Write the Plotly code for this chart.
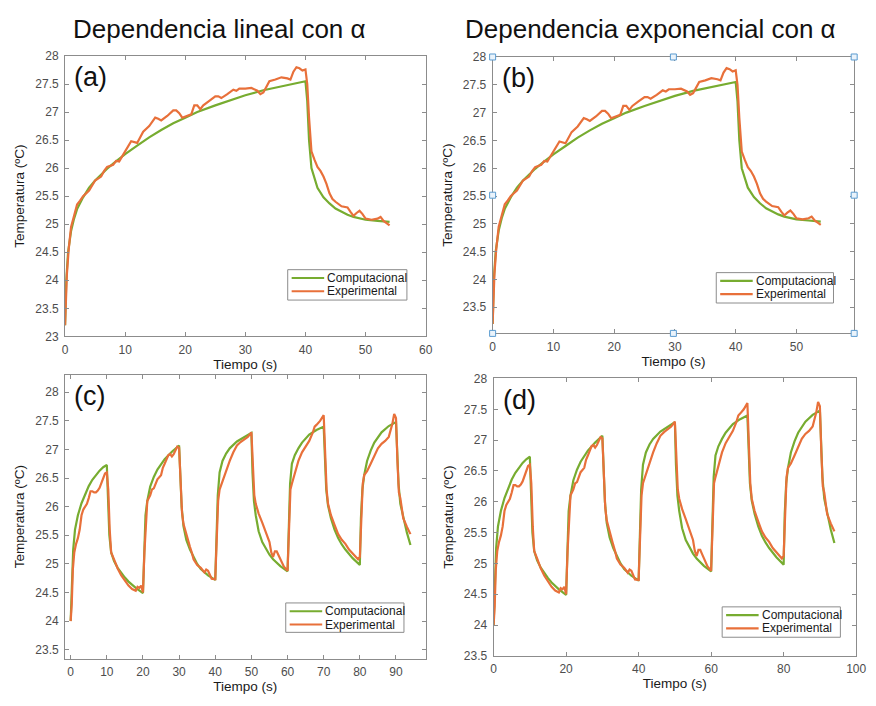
import plotly.graph_objects as go

# ---------------- Single heating pulse (panels a, b) ----------------
t_comp_pulse = [0, 0.2, 0.5, 1.0, 1.5, 2, 3, 4, 5, 6, 7, 8, 10, 12, 14, 16, 18, 20,
                22, 25, 28, 30, 33, 36, 40, 40.3, 40.6, 41, 41.5, 42, 43, 44, 45,
                46, 47, 48, 50, 52, 54]
temp_comp_pulse = [23.2, 24.0, 24.5, 24.88, 25.1, 25.27, 25.48, 25.65, 25.78, 25.89,
                   25.99, 26.08, 26.25, 26.4, 26.55, 26.68, 26.8, 26.9, 27.0, 27.12,
                   27.23, 27.3, 27.39, 27.46, 27.55, 27.2, 26.5, 26.0, 25.8, 25.65,
                   25.48, 25.37, 25.28, 25.22, 25.17, 25.13, 25.08, 25.06, 25.04]

t_exp_pulse = [0, 0.3, 0.6, 1, 1.5, 2, 2.5, 3, 3.5, 4,
               5, 6, 6.5, 7, 8, 8.5, 9, 10, 10.5, 11,
               12, 12.5, 13, 14, 15, 15.5, 16, 17, 18, 18.5,
               19, 19.5, 20, 21, 21.5, 22, 22.5, 23, 24, 25,
               25.5, 26, 27, 28, 28.5, 29, 30, 31, 32, 32.5,
               33, 34, 35, 36, 37, 37.5, 38, 38.5, 39, 39.5,
               40, 40.3, 40.6, 41, 41.5, 42, 42.5, 43, 43.5, 44,
               44.5, 45, 46, 47, 47.5, 48, 48.5, 49, 49.5, 50,
               51, 52, 52.5, 53, 53.5, 54]
temp_exp_pulse = [23.2, 24.1, 24.55, 24.95, 25.15, 25.35, 25.42, 25.5, 25.55, 25.6,
                  25.78, 25.85, 25.95, 26.02, 26.06, 26.13, 26.12, 26.3, 26.4, 26.48,
                  26.45, 26.55, 26.65, 26.75, 26.9, 26.88, 26.85, 26.93, 27.03, 27.03,
                  26.98, 26.9, 26.92, 26.96, 27.12, 27.12, 27.05, 27.12, 27.2, 27.28,
                  27.28, 27.25, 27.32, 27.4, 27.38, 27.42, 27.42, 27.43, 27.38, 27.32,
                  27.35, 27.55, 27.58, 27.62, 27.6, 27.58, 27.72, 27.8, 27.78, 27.74,
                  27.76, 27.5, 26.9, 26.3, 26.15, 26.02, 25.95, 25.85, 25.72, 25.55,
                  25.45, 25.4, 25.32, 25.3, 25.22, 25.15, 25.2, 25.24, 25.18, 25.1,
                  25.08, 25.1, 25.13, 25.06, 25.02, 24.98]

# ---------------- Periodic heating, 10 s on / 10 s off (panels c, d) ----------------
t_comp_cycle = [0, 0.3, 0.7, 1.2, 2, 3, 4, 5, 6, 7, 8, 9, 10,
                10.3, 10.7, 11.2, 12, 13, 14, 15, 16, 18, 20,
                20.3, 20.7, 21.2, 22, 23, 24, 26, 28, 30,
                30.3, 30.7, 31.2, 32, 33, 34, 35, 36, 38, 40,
                40.3, 40.7, 41.2, 42, 43, 44, 46, 48, 50,
                50.3, 50.7, 51.2, 52, 53, 54, 55, 56, 58, 60,
                60.3, 60.7, 61.2, 62, 63, 64, 66, 68, 70,
                70.3, 70.7, 71.2, 72, 73, 74, 75, 76, 78, 80,
                80.3, 80.7, 81.2, 82, 83, 84, 86, 88, 90,
                90.3, 90.7, 91.2, 92, 93, 94]
temp_comp_cycle = [24.0, 24.7, 25.25, 25.6, 25.85, 26.06, 26.22, 26.36, 26.47, 26.56, 26.63, 26.69, 26.73,
                   26.2, 25.5, 25.2, 25.05, 24.93, 24.84, 24.76, 24.69, 24.58, 24.49,
                   25.3, 25.85, 26.1, 26.35, 26.52, 26.65, 26.83, 26.96, 27.07,
                   26.5, 26.0, 25.66, 25.42, 25.25, 25.12, 25.0, 24.91, 24.8, 24.72,
                   25.6, 26.2, 26.6, 26.8, 26.93, 27.02, 27.14, 27.22, 27.29,
                   26.6, 26.1, 25.85, 25.57, 25.38, 25.26, 25.16, 25.08, 24.96, 24.87,
                   25.7, 26.4, 26.75, 26.9, 27.02, 27.12, 27.26, 27.34, 27.4,
                   26.8, 26.3, 26.02, 25.8, 25.6, 25.45, 25.34, 25.25, 25.1, 24.98,
                   25.8, 26.3, 26.55, 26.8, 26.98, 27.12, 27.3, 27.41, 27.48,
                   26.9, 26.4, 26.05, 25.8, 25.55, 25.33]

t_exp_cycle = [0, 0.3, 0.6, 1, 1.5, 2, 2.5, 3, 3.5, 4, 4.5, 5, 5.5, 6, 6.5, 7, 7.5, 8, 8.5, 9, 9.5, 10,
               10.4, 10.8, 11.2, 12, 12.5, 13, 14, 15, 16, 17, 18, 18.5, 19, 19.5, 20,
               20.4, 20.8, 21.2, 22, 22.5, 23, 23.5, 24, 25, 25.5, 26, 27, 27.5, 28, 28.5, 29, 29.5, 30,
               30.4, 30.8, 31.2, 32, 33, 33.5, 34, 35, 36, 37, 37.5, 38, 38.5, 39, 40,
               40.4, 40.8, 41.2, 42, 43, 44, 45, 46, 47, 48, 49, 50,
               50.4, 50.8, 51.2, 52, 53, 54, 55, 55.5, 56, 56.5, 57, 57.5, 58, 59, 60,
               60.4, 60.8, 61.2, 62, 63, 64, 65, 66, 67, 67.5, 68, 69, 70,
               70.4, 70.8, 71.2, 72, 73, 74, 75, 76, 77, 78, 79, 79.5, 80,
               80.4, 80.8, 81.2, 82, 83, 84, 85, 86, 87, 88, 88.5, 89, 89.5, 90,
               90.4, 90.8, 91.2, 92, 93, 94]
temp_exp_cycle = [24.0, 24.3, 24.9, 25.2, 25.35, 25.45, 25.6, 25.85, 25.95, 26.0, 26.05, 26.15, 26.27, 26.27,
                  26.25, 26.25, 26.28, 26.33, 26.42, 26.52, 26.58, 26.6,
                  26.3, 25.6, 25.2, 25.08, 25.0, 24.92, 24.8, 24.7, 24.62, 24.56, 24.53, 24.6, 24.58, 24.62, 24.5,
                  25.2, 25.8, 26.1, 26.2, 26.3, 26.32, 26.42, 26.48, 26.55, 26.68, 26.75, 26.9, 26.92, 26.88,
                  26.92, 26.98, 27.05, 27.03,
                  26.5, 25.9, 25.7, 25.5, 25.3, 25.2, 25.08, 24.98, 24.93, 24.85, 24.9, 24.88, 24.8, 24.74, 24.73,
                  25.5, 26.1, 26.3, 26.45, 26.62, 26.8, 26.95, 27.07, 27.13, 27.17, 27.22, 27.3,
                  26.8, 26.2, 26.05, 25.88, 25.72, 25.55, 25.38, 25.2, 25.12, 25.22, 25.22, 25.15, 25.08, 24.95, 24.88,
                  25.7, 26.3, 26.4, 26.6, 26.8, 26.95, 27.05, 27.15, 27.3, 27.4, 27.43, 27.5, 27.6,
                  27.0, 26.3, 26.05, 25.85, 25.68, 25.52, 25.42, 25.35, 25.25, 25.18, 25.12, 25.08, 25.12,
                  25.8, 26.4, 26.55, 26.62, 26.75, 26.9, 27.02, 27.1, 27.15, 27.22, 27.32, 27.45, 27.62, 27.55,
                  26.8, 26.25, 26.15, 25.8, 25.65, 25.52]

series_names = ["Computacional", "Experimental"]
panel_tags = ["(a)", "(b)", "(c)", "(d)"]
column_titles = ["Dependencia lineal con \u03b1", "Dependencia exponencial con \u03b1"]

GREEN = "#77AC30"
ORANGE = "#E8703A"
BOX = "#8c8c8c"
FONT = "Liberation Sans, Arial, sans-serif"

W, H = 876, 706


def px_x(a, b):
    return [a / W, b / W]


def px_y(top, bottom):
    return [1 - bottom / H, 1 - top / H]


def fx(px):
    return px / W


def fy(px):
    return 1 - px / H


panels = [
    # x domain, y domain, x range, y range, x dtick
    dict(xd=px_x(63, 429), yd=px_y(50, 336), xr=[0, 60], yr=[23, 28], dt=10),
    dict(xd=px_x(497, 864), yd=px_y(51, 333), xr=[0, 59.5], yr=[23.03, 28], dt=10),
    dict(xd=px_x(63, 429), yd=px_y(375, 665), xr=[-1.55, 98.2], yr=[23.34, 28.31], dt=10),
    dict(xd=px_x(498, 866), yd=px_y(379, 662), xr=[0, 100], yr=[23.5, 28], dt=20),
]
# legend boxes in pixels: left, top, right, bottom
legend_boxes = [(289, 268, 410, 299), (724, 271, 843, 302), (287, 608, 407, 638), (730, 612, 850, 643)]
data_sets = [
    (t_comp_pulse, temp_comp_pulse, t_exp_pulse, temp_exp_pulse),
    (t_comp_pulse, temp_comp_pulse, t_exp_pulse, temp_exp_pulse),
    (t_comp_cycle, temp_comp_cycle, t_exp_cycle, temp_exp_cycle),
    (t_comp_cycle, temp_comp_cycle, t_exp_cycle, temp_exp_cycle),
]
colors = [GREEN, ORANGE]

fig = go.Figure()
layout = dict(
    width=W, height=H,
    margin=dict(l=0, r=0, t=0, b=0),
    paper_bgcolor="white", plot_bgcolor="white",
    font=dict(family=FONT, color="#262626"),
    showlegend=False,
    annotations=[], shapes=[],
)

for i, (p, ds) in enumerate(zip(panels, data_sets)):
    k = "" if i == 0 else str(i + 1)
    xa, ya = "x" + k, "y" + k
    tc, yc, te, ye = ds
    fig.add_trace(go.Scatter(x=tc, y=yc, mode="lines", name=series_names[0],
                             line=dict(color=GREEN, width=2.2), xaxis=xa, yaxis=ya))
    fig.add_trace(go.Scatter(x=te, y=ye, mode="lines", name=series_names[1],
                             line=dict(color=ORANGE, width=2.2), xaxis=xa, yaxis=ya))

    common = dict(showline=True, linecolor=BOX, linewidth=1, mirror="ticks",
                  ticks="inside", ticklen=4, tickcolor=BOX, showgrid=False, zeroline=False,
                  tickfont=dict(family=FONT, size=12, color="#4d4d4d"),
                  title_font=dict(family=FONT, size=13.5, color="#1a1a1a"))
    layout["xaxis" + k] = dict(common, domain=p["xd"], range=p["xr"], dtick=p["dt"], tick0=0,
                               anchor=ya, ticklabelstandoff=2,
                               title=dict(text="Tiempo (s)", standoff=2))
    layout["yaxis" + k] = dict(common, domain=p["yd"], range=p["yr"], dtick=0.5, tick0=0,
                               anchor=xa, ticklabelstandoff=3,
                               title=dict(text="Temperatura (\u00baC)", standoff=7))

    # legend box drawn in page pixels
    l, t, r, b = legend_boxes[i]
    layout["shapes"].append(dict(type="rect", xref="paper", yref="paper",
                                 x0=fx(l), x1=fx(r), y0=fy(b), y1=fy(t),
                                 line=dict(color=BOX, width=1), fillcolor="white", layer="above"))
    for j, (nm, col) in enumerate(zip(series_names, colors)):
        row_y = t + 8.5 + 13.5 * j
        layout["shapes"].append(dict(type="line", xref="paper", yref="paper",
                                     x0=fx(l + 4), x1=fx(l + 37), y0=fy(row_y), y1=fy(row_y),
                                     line=dict(color=col, width=2.2), layer="above"))
        layout["annotations"].append(dict(
            text=nm, xref="paper", yref="paper", x=fx(l + 38), y=fy(row_y),
            xanchor="left", yanchor="middle", showarrow=False,
            font=dict(family=FONT, size=12, color="#1a1a1a")))

    layout["annotations"].append(dict(
        text=panel_tags[i], xref=xa + " domain", yref=ya + " domain",
        x=0.02, y=0.985, xanchor="left", yanchor="top", showarrow=False,
        font=dict(family=FONT, size=27, color="#111111")))

# column headings
for cx, txt in zip([220, 657], column_titles):
    layout["annotations"].append(dict(
        text=txt, xref="paper", yref="paper", x=cx / W, y=1 - 22 / H,
        xanchor="center", yanchor="middle", showarrow=False,
        font=dict(family=FONT, size=26, color="#111111")))

# selection handles around panel (b): corners and edge midpoints
for hx in [0, 0.5, 1]:
    for hy in [0, 0.5, 1]:
        if hx == 0.5 and hy == 0.5:
            continue
        layout["shapes"].append(dict(
            type="rect", xref="x2 domain", yref="y2 domain",
            xsizemode="pixel", ysizemode="pixel", xanchor=hx, yanchor=hy,
            x0=-3, x1=3, y0=-3, y1=3,
            line=dict(color="#5a9bd0", width=1), fillcolor="#eaf3fb", layer="above"))

fig.update_layout(**layout)
fig.write_html("out.html")
